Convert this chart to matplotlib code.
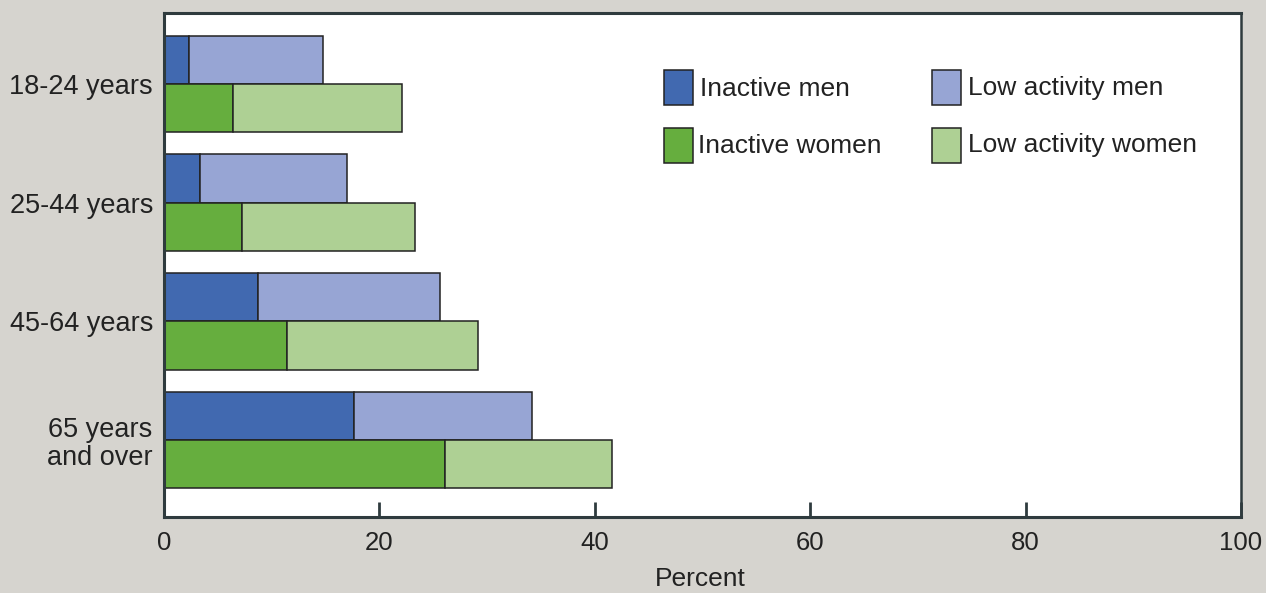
import matplotlib.pyplot as plt
from matplotlib.patches import Rectangle
import numpy as np

plt.rcParams['font.family'] = ['Liberation Sans', 'DejaVu Sans']

# data (percent)
age_groups = ["18-24 years", "25-44 years", "45-64 years", "65 years\nand over"]
inactive_men = [2.3, 3.3, 8.7, 17.6]
low_men_total = [14.8, 17.0, 25.6, 34.2]
inactive_women = [6.4, 7.2, 11.4, 26.1]
low_women_total = [22.1, 23.3, 29.2, 41.6]

low_men = [t - i for t, i in zip(low_men_total, inactive_men)]
low_women = [t - i for t, i in zip(low_women_total, inactive_women)]

C_IN_MEN = "#4169b0"
C_LOW_MEN = "#97a5d4"
C_IN_WOMEN = "#66ae3e"
C_LOW_WOMEN = "#aed094"
BG = "#d6d4cf"
TXT = "#222222"
FRAME = "#2f3b3e"

W, H = 1266, 593
fig = plt.figure(figsize=(W / 100, H / 100), dpi=100, facecolor=BG)
ax = fig.add_axes([164 / W, (H - 516.7) / H, (1241 - 164) / W, 503.4 / H])
ax.set_facecolor("white")

y = np.arange(len(age_groups))
h = 0.407
edge = dict(edgecolor="#222222", linewidth=1.1)
ax.barh(y - h / 2, inactive_men, height=h, color=C_IN_MEN, **edge)
ax.barh(y - h / 2, low_men, left=inactive_men, height=h, color=C_LOW_MEN, **edge)
ax.barh(y + h / 2, inactive_women, height=h, color=C_IN_WOMEN, **edge)
ax.barh(y + h / 2, low_women, left=inactive_women, height=h, color=C_LOW_WOMEN, **edge)

ax.set_xlim(0, 100)
ax.set_ylim(3.646, -0.596)
ax.set_xticks([0, 20, 40, 60, 80, 100])
ax.tick_params(axis="x", direction="in", length=11, width=2, color=FRAME,
               pad=10, labelsize=18.5, labelcolor=TXT)
ax.set_yticks(y)
ax.set_yticklabels(age_groups, fontsize=19.5, color=TXT)
for lab in ax.get_yticklabels():
    lab.set_multialignment("center")
    lab.set_linespacing(1.08)
ax.tick_params(axis="y", length=0, pad=8)

for side, sp in ax.spines.items():
    sp.set_color(FRAME)
    sp.set_linewidth(2.2)
ax.spines["right"].set_linewidth(1.8)

fig.text(700 / W, (H - 567) / H, "Percent", ha="center", va="top",
         fontsize=19, color=TXT)

# manual legend (pixel positions)
legend_items = [
    ("Inactive men", C_IN_MEN, 664, 70, 700, 89),
    ("Low activity men", C_LOW_MEN, 932, 70, 968, 88),
    ("Inactive women", C_IN_WOMEN, 664, 128, 698, 146),
    ("Low activity women", C_LOW_WOMEN, 932, 128, 968, 145),
]
for label, col, px, py, tx, ty in legend_items:
    fig.patches.append(Rectangle((px / W, (H - py - 35) / H), 29 / W, 35 / H,
                                 transform=fig.transFigure, facecolor=col,
                                 edgecolor="#222222", linewidth=1.1))
    fig.text(tx / W, (H - ty) / H, label, ha="left", va="center",
             fontsize=19, color=TXT)

fig.savefig("out.png", dpi=100, facecolor=BG)
